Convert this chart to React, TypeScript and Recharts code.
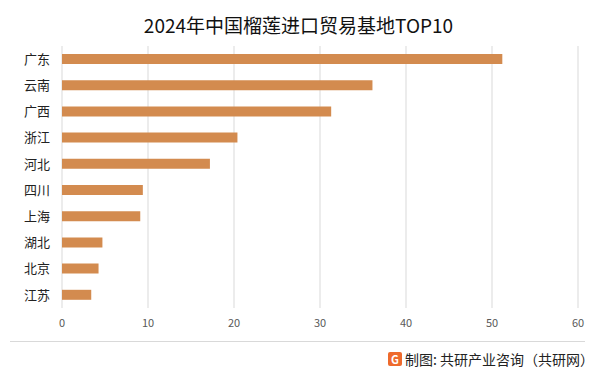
import React from 'react';
import { BarChart, Bar, XAxis, YAxis, CartesianGrid } from 'recharts';

const regions = ['广东', '云南', '广西', '浙江', '河北', '四川', '上海', '湖北', '北京', '江苏'];
const values = [51.2, 36.1, 31.3, 20.4, 17.2, 9.4, 9.1, 4.7, 4.25, 3.4];
const xTicks = [0, 10, 20, 30, 40, 50, 60];

const data = regions.map((name, i) => ({ name, value: values[i] }));

const FONT = '"Noto Sans CJK SC", "Noto Sans", sans-serif';

export default function App() {
  return (
    <div style={{ position: 'absolute', left: 0, top: 0, width: 602, height: 368, background: '#fff', overflow: 'hidden', fontFamily: FONT }}>
      <div style={{ position: 'absolute', left: 0, top: 12, width: 597, textAlign: 'center', fontSize: 19, color: '#111', lineHeight: '26px' }}>
        2024年中国榴莲进口贸易基地TOP10
      </div>
      <BarChart
        width={602}
        height={368}
        data={data}
        layout="vertical"
        margin={{ top: 46, right: 24, bottom: 30, left: 0 }}
      >
        <CartesianGrid horizontal={false} vertical={true} stroke="#d9d9d9" />
        <XAxis
          type="number"
          domain={[0, 60]}
          ticks={xTicks}
          axisLine={false}
          tickLine={false}
          tickMargin={5}
          height={30}
          tick={{ fontSize: 11, fill: '#595959', fontFamily: FONT }}
        />
        <YAxis
          type="category"
          dataKey="name"
          width={62}
          axisLine={false}
          tickLine={false}
          tickMargin={6}
          tick={{ fontSize: 13, fill: '#222', fontFamily: FONT }}
        />
        <Bar dataKey="value" fill="#D38B4F" barSize={10} isAnimationActive={false} />
      </BarChart>
      <div style={{ position: 'absolute', left: 10, top: 341, width: 575, height: 1, background: '#d9d9d9' }} />
      <div style={{ position: 'absolute', left: 388, top: 352, width: 14, height: 14, background: '#EE6A2C', borderRadius: 2, color: '#fff', fontSize: 11, fontWeight: 700, lineHeight: '14px', textAlign: 'center' }}>G</div>
      <div style={{ position: 'absolute', left: 405, top: 350, fontSize: 14, color: '#222', lineHeight: '18px', whiteSpace: 'nowrap' }}>
        制图: 共研产业咨询（共研网）
      </div>
    </div>
  );
}
